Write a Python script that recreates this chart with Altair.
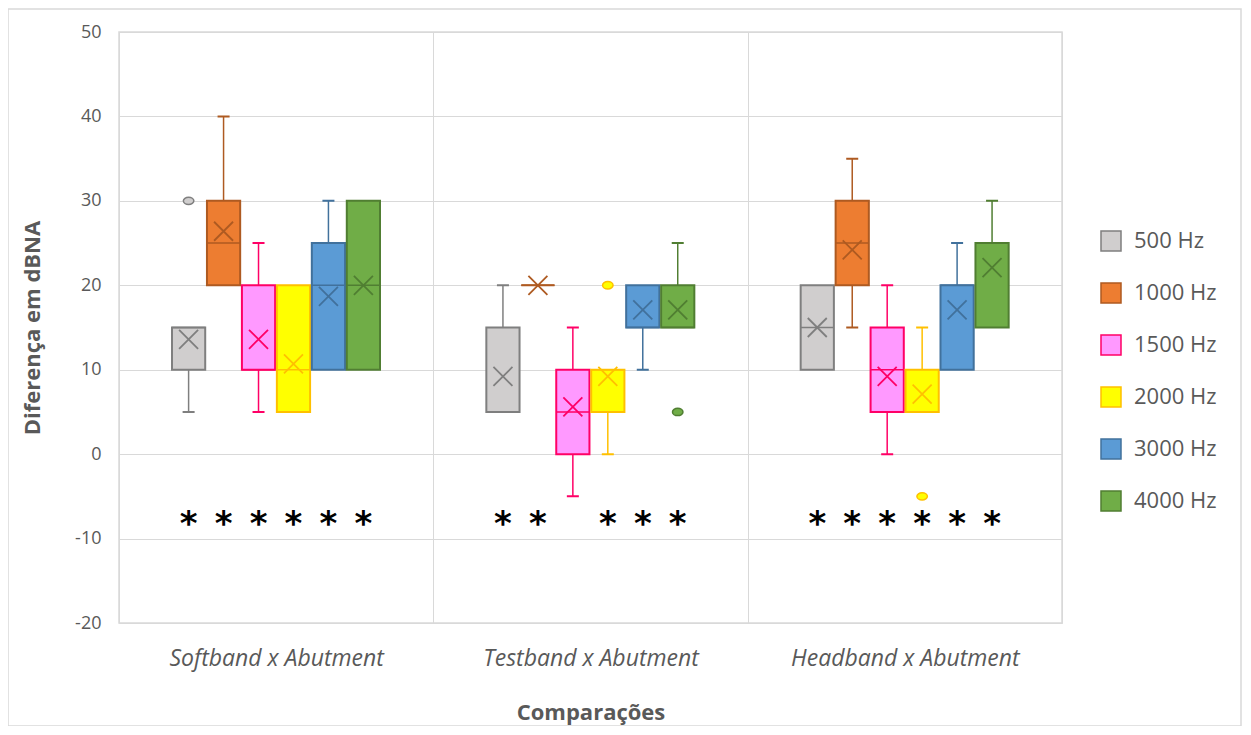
import altair as alt
import pandas as pd

groups = ["Softband x Abutment", "Testband x Abutment", "Headband x Abutment"]
freqs = ["500 Hz", "1000 Hz", "1500 Hz", "2000 Hz", "3000 Hz", "4000 Hz"]
fill_colors = ["#D0CECE", "#ED7D31", "#FF99FF", "#FFFF00", "#5B9BD5", "#70AD47"]
stroke_colors = ["#7F7F7F", "#AE5A21", "#FF0066", "#FFC000", "#41719C", "#507E32"]

# per group, in the order of freqs
q1 = {
    "Softband x Abutment": [10, 20, 10, 5, 10, 10],
    "Testband x Abutment": [5, 20, 0, 5, 15, 15],
    "Headband x Abutment": [10, 20, 5, 5, 10, 15],
}
q3 = {
    "Softband x Abutment": [15, 30, 20, 20, 25, 30],
    "Testband x Abutment": [15, 20, 10, 10, 20, 20],
    "Headband x Abutment": [20, 30, 15, 10, 20, 25],
}
median = {
    "Softband x Abutment": [15, 25, 10, 10, 20, 20],
    "Testband x Abutment": [5, 20, 5, 10, 15, 15],
    "Headband x Abutment": [15, 25, 10, 5, 20, 25],
}
mean = {
    "Softband x Abutment": [13.6, 26.4, 13.6, 10.7, 18.7, 20.0],
    "Testband x Abutment": [9.2, 20.0, 5.6, 9.2, 17.1, 17.1],
    "Headband x Abutment": [15.0, 24.2, 9.2, 7.1, 17.1, 22.1],
}
whisker_low = {
    "Softband x Abutment": [5, 20, 5, 5, 10, 10],
    "Testband x Abutment": [5, 20, -5, 0, 10, 15],
    "Headband x Abutment": [10, 15, 0, 5, 10, 15],
}
whisker_high = {
    "Softband x Abutment": [15, 40, 25, 20, 30, 30],
    "Testband x Abutment": [20, 20, 15, 10, 20, 25],
    "Headband x Abutment": [20, 35, 20, 15, 25, 30],
}
outlier_group = ["Softband x Abutment", "Testband x Abutment", "Testband x Abutment", "Headband x Abutment"]
outlier_freq = ["500 Hz", "2000 Hz", "4000 Hz", "2000 Hz"]
outlier_value = [30, 20, 5, -5]

significance = {
    "Softband x Abutment": [1, 1, 1, 1, 1, 1],
    "Testband x Abutment": [1, 1, 0, 1, 1, 1],
    "Headband x Abutment": [1, 1, 1, 1, 1, 1],
}
star_level = -7.5

box_rows, wh_rows, star_rows = [], [], []
for g in groups:
    for i, f in enumerate(freqs):
        box_rows.append({"group": g, "freq": f, "q1": q1[g][i], "q3": q3[g][i],
                         "median": median[g][i], "mean": mean[g][i]})
        if whisker_low[g][i] < q1[g][i]:
            wh_rows.append({"group": g, "freq": f, "start": q1[g][i], "end": whisker_low[g][i]})
        if whisker_high[g][i] > q3[g][i]:
            wh_rows.append({"group": g, "freq": f, "start": q3[g][i], "end": whisker_high[g][i]})
        if significance[g][i]:
            star_rows.append({"group": g, "freq": f, "y": star_level, "t": "*"})
box_df = pd.DataFrame(box_rows)
wh_df = pd.DataFrame(wh_rows)
star_df = pd.DataFrame(star_rows)
out_df = pd.DataFrame({"group": outlier_group, "freq": outlier_freq, "value": outlier_value})

GRID = "#D9D9D9"
TXT = "#595959"

x_enc = alt.X("group:N", sort=groups,
              scale=alt.Scale(domain=groups, paddingInner=0, paddingOuter=0),
              axis=alt.Axis(title="Comparações", labelAngle=0, tickBand="extent", ticks=False,
                            domain=False, grid=True, gridColor=GRID, labelFontStyle="italic",
                            labelFont="Open Sans", labelFontSize=23, labelColor=TXT, labelPadding=24,
                            labelLimit=0,
                            titleFont="Open Sans", titleFontSize=22, titleFontWeight="bold",
                            titleColor=TXT, titlePadding=32))
xo_enc = alt.XOffset("freq:N", sort=freqs,
                     scale=alt.Scale(domain=freqs, range=[53, 261], paddingInner=0.05, paddingOuter=0))
y_scale = alt.Scale(domain=[-20, 50], nice=False, zero=False)
y_axis = alt.Axis(title="Diferença em dBNA", values=list(range(-20, 51, 10)), grid=True,
                  gridColor=GRID, domain=False, ticks=False, labelPadding=18, labelFont="Open Sans",
                  labelExpr="'' + datum.value",
                  labelFontSize=18, labelColor=TXT, titleFont="Open Sans", titleFontSize=22,
                  titleFontWeight="bold", titleColor=TXT, titlePadding=30)

legend = alt.Legend(title=None, orient="none", legendX=981, legendY=198, symbolType="square",
                    symbolSize=400, symbolStrokeWidth=1.5, labelFont="Open Sans", labelFontSize=22,
                    labelColor=TXT, labelOffset=12, rowPadding=26)
fill_enc = alt.Fill("freq:N", sort=freqs, scale=alt.Scale(domain=freqs, range=fill_colors), legend=legend)
stroke_enc = alt.Stroke("freq:N", sort=freqs, scale=alt.Scale(domain=freqs, range=stroke_colors), legend=legend)

frame = alt.Chart(pd.DataFrame({"k": [0]})).mark_rect(
    fillOpacity=0, stroke=GRID, strokeWidth=1.5, clip=False
).encode(x=alt.value(-111), x2=alt.value(1122), y=alt.value(-23), y2=alt.value(694))

whiskers = alt.Chart(wh_df).mark_rule(strokeWidth=1.5).encode(
    x=x_enc, xOffset=xo_enc,
    y=alt.Y("start:Q", scale=y_scale, axis=y_axis), y2="end:Q",
    stroke=stroke_enc)

caps = alt.Chart(wh_df).mark_bar(width=12, strokeWidth=2, fillOpacity=0).encode(
    x=x_enc, xOffset=xo_enc,
    y=alt.Y("end:Q", scale=y_scale, axis=y_axis), y2="end:Q",
    stroke=stroke_enc)

boxes = alt.Chart(box_df).mark_bar(strokeWidth=2).encode(
    x=x_enc, xOffset=xo_enc,
    y=alt.Y("q1:Q", scale=y_scale, axis=y_axis), y2="q3:Q",
    fill=fill_enc, stroke=stroke_enc)

medians = alt.Chart(box_df).mark_bar(strokeWidth=1.5, fillOpacity=0).encode(
    x=x_enc, xOffset=xo_enc,
    y=alt.Y("median:Q", scale=y_scale, axis=y_axis), y2="median:Q",
    stroke=stroke_enc)

means = alt.Chart(box_df).mark_point(
    shape="M-1,-1L1,1M-1,1L1,-1", size=361, strokeWidth=1.8, filled=False, opacity=1
).encode(
    x=x_enc, xOffset=xo_enc,
    y=alt.Y("mean:Q", scale=y_scale, axis=y_axis),
    stroke=stroke_enc)

outliers = alt.Chart(out_df).mark_point(
    shape="M-1,0A1,0.7,0,1,1,1,0A1,0.7,0,1,1,-1,0Z", size=110, strokeWidth=1.5,
    filled=True, opacity=1
).encode(
    x=x_enc, xOffset=xo_enc,
    y=alt.Y("value:Q", scale=y_scale, axis=y_axis),
    fill=fill_enc, stroke=stroke_enc)

stars = alt.Chart(star_df).mark_text(
    font="DejaVu Sans", fontWeight="bold", fontSize=34, color="#000000",
    baseline="alphabetic", dy=18
).encode(
    x=x_enc, xOffset=xo_enc,
    y=alt.Y("y:Q", scale=y_scale, axis=y_axis),
    text="t:N")

chart = alt.layer(frame, whiskers, caps, boxes, medians, means, outliers, stars).properties(
    width=943, height=591,
    padding={"left": 111, "top": 24, "right": 181, "bottom": 103},
    autosize=alt.AutoSizeParams(type="none"),
).configure_view(stroke=GRID, strokeWidth=1.5)

chart.save("out.html", embed_options={"renderer": "svg", "actions": False})
